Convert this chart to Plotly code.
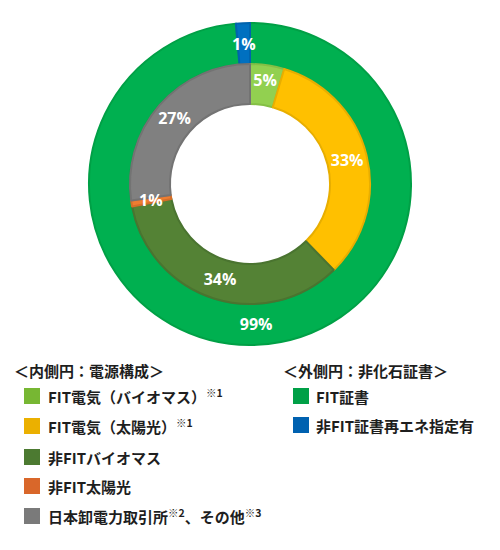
import math
import plotly.graph_objects as go

# ---- data ----
inner_labels = ["FIT電気（バイオマス）", "FIT電気（太陽光）", "非FITバイオマス", "非FIT太陽光", "日本卸電力取引所、その他"]
inner_values = [4.6, 33.1, 34.3, 0.8, 27.2]
inner_colors = ["#92D050", "#FFC000", "#548235", "#ED7D31", "#808080"]
inner_lines = ["#84BF45", "#E8AE00", "#4A7430", "#D66E28", "#737373"]

outer_labels = ["FIT証書", "非FIT証書再エネ指定有"]
outer_values = [98.6, 1.4]
outer_colors = ["#00B050", "#0070C0"]
outer_lines = ["#00A046", "#0063AD"]

legend_inner_title = "＜内側円：電源構成＞"
legend_inner_text = [
    "FIT電気（バイオマス）<sup>※1</sup>",
    "FIT電気（太陽光）<sup>※1</sup>",
    "非FITバイオマス",
    "非FIT太陽光",
    "日本卸電力取引所<sup>※2</sup>、その他<sup>※3</sup>",
]
legend_inner_colors = ["#77B733", "#EBB000", "#4C7A31", "#D9672A", "#7A7A7A"]

legend_outer_title = "＜外側円：非化石証書＞"
legend_outer_text = ["FIT証書", "非FIT証書再エネ指定有"]
legend_outer_colors = ["#00A047", "#0061B0"]

W, H = 500, 550
cx, cy = 250, 184
R_out, R_mid, R_hole = 161, 120, 80
THIN = 2.0  # slices below this share get their label placed at the ring's middle radius

def px_dom(r):
    return dict(x=[(cx - r) / W, (cx + r) / W],
                y=[1 - (cy + r) / H, 1 - (cy - r) / H])

def py(y):
    return 1 - y / H

label_font = dict(family="Open Sans, sans-serif", size=16, color="white", weight="bold")

annotations = []
shapes = []

def add_ring(values, colors, lines, labels, r_outer, r_inner):
    total = sum(values)
    tmpl = ["" if v / total * 100 < THIN else "%{percent:.0%}" for v in values]
    fig.add_trace(go.Pie(
        labels=labels, values=values, sort=False, direction="clockwise", rotation=0,
        hole=r_inner / r_outer, domain=px_dom(r_outer),
        marker=dict(colors=colors, line=dict(color=lines, width=2)),
        texttemplate=tmpl, textposition="inside", insidetextorientation="horizontal",
        textfont=label_font, hoverinfo="skip", showlegend=False,
    ))
    cum = 0.0
    rm = (r_outer + r_inner) / 2
    for v in values:
        share = v / total
        if share * 100 < THIN:
            th = 2 * math.pi * (cum + share / 2)
            x = cx + rm * math.sin(th)
            y = cy - rm * math.cos(th)
            annotations.append(dict(x=x / W, y=py(y), xref="paper", yref="paper",
                                    text=f"{share * 100:.0f}%", showarrow=False,
                                    xanchor="center", yanchor="middle", font=label_font))
        cum += share

fig = go.Figure()
add_ring(outer_values, outer_colors, outer_lines, outer_labels, R_out, R_mid)
add_ring(inner_values, inner_colors, inner_lines, inner_labels, R_mid, R_hole)

text_font = dict(family="Noto Sans CJK JP", size=15, color="#1E1E1E", weight="bold")

# left legend
annotations.append(dict(x=12 / W, y=py(370), xref="paper", yref="paper", text=legend_inner_title,
                        showarrow=False, xanchor="left", yanchor="middle", font=text_font))
rows_left = [396, 426, 457, 486, 516]
for t, c, y in zip(legend_inner_text, legend_inner_colors, rows_left):
    shapes.append(dict(type="rect", xref="paper", yref="paper", x0=24 / W, x1=40 / W,
                       y0=py(y + 8), y1=py(y - 8), fillcolor=c, line=dict(width=0)))
    annotations.append(dict(x=46 / W, y=py(y), xref="paper", yref="paper", text=t,
                            showarrow=False, xanchor="left", yanchor="middle", font=text_font))

# right legend
annotations.append(dict(x=281 / W, y=py(370), xref="paper", yref="paper", text=legend_outer_title,
                        showarrow=False, xanchor="left", yanchor="middle", font=text_font))
rows_right = [396, 425]
for t, c, y in zip(legend_outer_text, legend_outer_colors, rows_right):
    shapes.append(dict(type="rect", xref="paper", yref="paper", x0=293 / W, x1=309 / W,
                       y0=py(y + 8), y1=py(y - 8), fillcolor=c, line=dict(width=0)))
    annotations.append(dict(x=314 / W, y=py(y), xref="paper", yref="paper", text=t,
                            showarrow=False, xanchor="left", yanchor="middle", font=text_font))

fig.update_layout(
    width=W, height=H,
    margin=dict(l=0, r=0, t=0, b=0),
    paper_bgcolor="white", plot_bgcolor="white",
    uniformtext=dict(minsize=16, mode="show"),
    annotations=annotations, shapes=shapes,
)

fig.write_html("out.html", config={"displayModeBar": False},
               post_script="document.body.style.margin='0';")
